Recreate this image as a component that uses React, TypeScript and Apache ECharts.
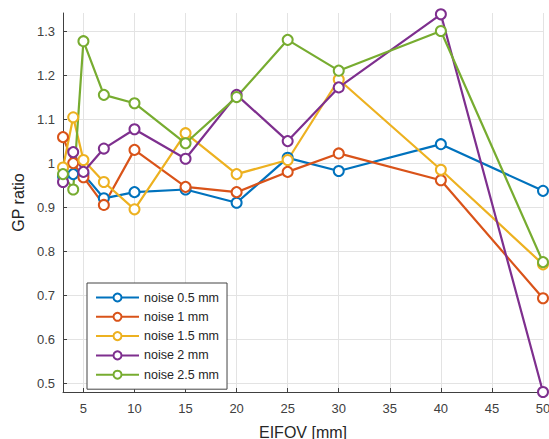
import React, { useEffect, useRef } from "react";
import * as echarts from "echarts";

const eifov = [3, 4, 5, 7, 10, 15, 20, 25, 30, 40, 50];
const noise05 = [0.97, 0.975, 0.975, 0.92, 0.934, 0.94, 0.91, 1.012, 0.982, 1.043, 0.937];
const noise1 = [1.059, 1.0, 0.968, 0.905, 1.03, 0.946, 0.934, 0.98, 1.022, 0.961, 0.693];
const noise15 = [0.99, 1.104, 1.007, 0.957, 0.895, 1.068, 0.975, 1.007, 1.19, 0.985, 0.77];
const noise2 = [0.957, 1.025, 0.98, 1.033, 1.077, 1.01, 1.155, 1.05, 1.172, 1.338, 0.48];
const noise25 = [0.975, 0.94, 1.277, 1.155, 1.136, 1.045, 1.15, 1.28, 1.21, 1.3, 0.775];

const seriesNames = ["noise 0.5 mm", "noise 1 mm", "noise 1.5 mm", "noise 2 mm", "noise 2.5 mm"];
const seriesData = [noise05, noise1, noise15, noise2, noise25];
const colors = ["#0072BD", "#D95319", "#EDB120", "#7E2F8E", "#77AC30"];

const FONT = "'Liberation Sans', Arial, sans-serif";

export default function App() {
  const ref = useRef<HTMLDivElement>(null);
  useEffect(() => {
    if (!ref.current) return;
    const chart = echarts.init(ref.current, null, { renderer: "svg" });
    chart.setOption({
      animation: false,
      backgroundColor: "#ffffff",
      color: colors,
      grid: { left: 63, right: 6, top: 13, bottom: 47, outerBoundsMode: "none" },
      legend: {
        orient: "vertical",
        left: 87,
        top: 283,
        padding: [8, 8, 8, 8],
        itemWidth: 43,
        itemHeight: 10,
        itemGap: 6.3,
        backgroundColor: "#ffffff",
        borderColor: "#444444",
        borderWidth: 1,
        textStyle: { fontFamily: FONT, fontSize: 12.5, lineHeight: 12, color: "#262626" },
        data: seriesNames,
      },
      xAxis: {
        type: "value",
        min: 3,
        max: 50,
        splitNumber: 10,
        name: "EIFOV [mm]",
        nameLocation: "middle",
        nameGap: 32,
        nameTextStyle: { fontFamily: FONT, fontSize: 16, color: "#262626" },
        axisLine: { show: true, lineStyle: { color: "#404040", width: 1 } },
        axisTick: { show: true, inside: true, length: 4, lineStyle: { color: "#404040" } },
        axisLabel: {
          showMinLabel: false,
          margin: 10,
          fontFamily: FONT,
          fontSize: 13,
          color: "#404040",
        },
        splitLine: { show: true, showMinLine: false, lineStyle: { color: "#e3e3e3", width: 1 } },
      },
      yAxis: {
        type: "value",
        min: 0.48,
        max: 1.341,
        splitNumber: 9,
        name: "GP ratio",
        nameLocation: "middle",
        nameGap: 36,
        nameTextStyle: { fontFamily: FONT, fontSize: 16, color: "#262626" },
        axisLine: { show: true, lineStyle: { color: "#404040", width: 1 } },
        axisTick: { show: true, inside: true, length: 4, lineStyle: { color: "#404040" } },
        axisLabel: {
          showMinLabel: false,
          showMaxLabel: false,
          margin: 8,
          fontFamily: FONT,
          fontSize: 13,
          color: "#404040",
        },
        splitLine: {
          show: true,
          showMinLine: false,
          showMaxLine: false,
          lineStyle: { color: "#e3e3e3", width: 1 },
        },
      },
      series: seriesNames.map((name, i) => ({
        name,
        type: "line",
        data: eifov.map((x, j) => [x, seriesData[i][j]]),
        symbol: "emptyCircle",
        symbolSize: 10,
        clip: false,
        lineStyle: { width: 2.2, color: colors[i] },
        itemStyle: { color: colors[i], borderColor: colors[i], borderWidth: 2 },
      })),
    });
    return () => chart.dispose();
  }, []);
  return (
    <div
      ref={ref}
      style={{ position: "fixed", left: 0, top: 0, width: 549, height: 439 }}
    />
  );
}
